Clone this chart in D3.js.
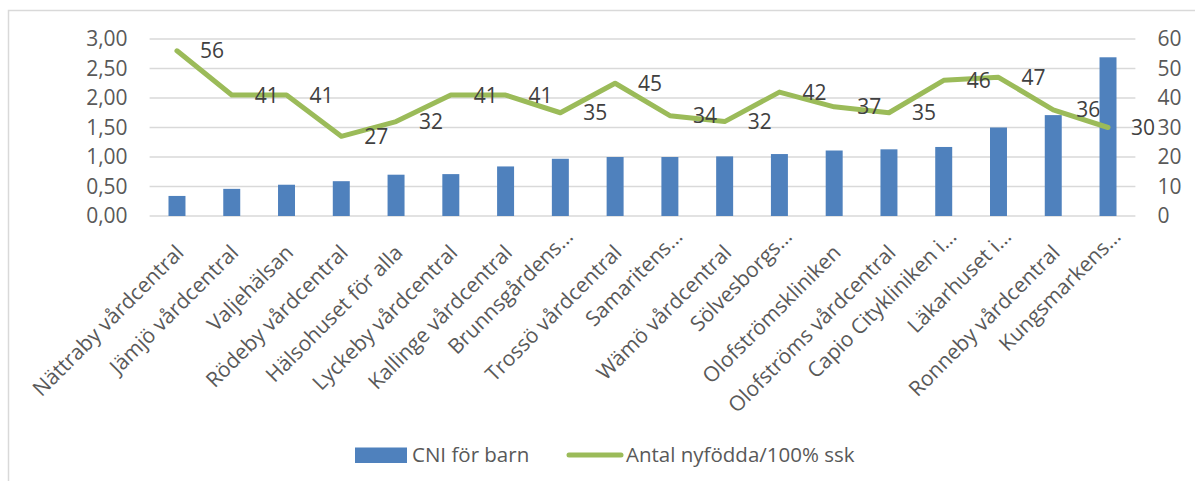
<!DOCTYPE html>
<html>
<head>
<meta charset="utf-8">
<script src="https://cdn.jsdelivr.net/npm/d3@7"></script>
<style>
  html, body { margin: 0; padding: 0; background: #fff; }
  svg { display: block; font-family: "Open Sans", sans-serif; }
</style>
</head>
<body>
<svg id="chart" width="1195" height="481"></svg>
<script>
// Vårdcentraler, sorterade efter CNI för barn
const categories = [
  "Nättraby vårdcentral", "Jämjö vårdcentral", "Valjehälsan", "Rödeby vårdcentral",
  "Hälsohuset för alla", "Lyckeby vårdcentral", "Kallinge vårdcentral", "Brunnsgårdens…",
  "Trossö vårdcentral", "Samaritens…", "Wämö vårdcentral", "Sölvesborgs…",
  "Olofströmskliniken", "Olofströms vårdcentral", "Capio Citykliniken i…", "Läkarhuset i…",
  "Ronneby vårdcentral", "Kungsmarkens…"
];
const cniValues = [0.34, 0.46, 0.53, 0.59, 0.70, 0.71, 0.84, 0.97, 1.00, 1.00, 1.01, 1.05, 1.11, 1.13, 1.17, 1.50, 1.71, 2.69];
const newbornValues = [56, 41, 41, 27, 32, 41, 41, 35, 45, 34, 32, 42, 37, 35, 46, 47, 36, 30];
const leftTicks = [0, 0.5, 1, 1.5, 2, 2.5, 3];
const rightTicks = [0, 10, 20, 30, 40, 50, 60];
const seriesNames = ["CNI för barn", "Antal nyfödda/100% ssk"];

const barColor = "#4F81BD";
const lineColor = "#9BBB59";
const gridColor = "#D9D9D9";
const axisText = "#595959";
const labelText = "#404040";

const svg = d3.select("#chart");
const plot = { left: 149.6, right: 1135.4, top: 39, bottom: 216 };

// Outer chart frame
svg.append("rect")
  .attr("x", 8.5).attr("y", 10.5)
  .attr("width", 1200).attr("height", 480)
  .attr("fill", "none").attr("stroke", gridColor).attr("stroke-width", 1.5);

const x = d3.scaleBand().domain(categories).range([plot.left, plot.right]).paddingInner(0.69).paddingOuter(0.345);
const xc = d3.scaleBand().domain(categories).range([plot.left, plot.right]);
const yL = d3.scaleLinear().domain([0, 3]).range([plot.bottom, plot.top]);
const yR = d3.scaleLinear().domain([0, 60]).range([plot.bottom, plot.top]);
const cx = d => xc(d) + xc.bandwidth() / 2;

// Gridlines
svg.append("g").selectAll("line").data(leftTicks).join("line")
  .attr("x1", plot.left).attr("x2", plot.right)
  .attr("y1", d => yL(d)).attr("y2", d => yL(d))
  .attr("stroke", gridColor).attr("stroke-width", 1.5);

// Left axis
const leftAxis = svg.append("g").attr("transform", `translate(${plot.left},0)`)
  .call(d3.axisLeft(yL).tickValues(leftTicks).tickSize(0).tickPadding(22)
    .tickFormat(d => d3.format(".2f")(d).replace(".", ",")));
leftAxis.select(".domain").remove();
leftAxis.selectAll("text").attr("fill", axisText).style("font-size", "21px").style("font-family", "Open Sans");

// Right axis
const rightAxis = svg.append("g").attr("transform", `translate(${plot.right},0)`)
  .call(d3.axisRight(yR).tickValues(rightTicks).tickSize(0).tickPadding(22));
rightAxis.select(".domain").remove();
rightAxis.selectAll("text").attr("fill", axisText).style("font-size", "21px").style("font-family", "Open Sans");

// Bars
svg.append("g").selectAll("rect").data(cniValues).join("rect")
  .attr("x", (d, i) => x(categories[i]))
  .attr("width", x.bandwidth())
  .attr("y", d => yL(d))
  .attr("height", d => yL(0) - yL(d))
  .attr("fill", barColor);

// Line
const line = d3.line()
  .x((d, i) => cx(categories[i]))
  .y(d => yR(d));
svg.append("path").datum(newbornValues)
  .attr("d", line)
  .attr("fill", "none").attr("stroke", lineColor)
  .attr("stroke-width", 5).attr("stroke-linejoin", "round").attr("stroke-linecap", "round");

// Data labels to the right of each point
svg.append("g").selectAll("text").data(newbornValues).join("text")
  .attr("x", (d, i) => cx(categories[i]) + 35)
  .attr("y", d => yR(d))
  .attr("dy", "0.36em")
  .attr("text-anchor", "middle")
  .attr("fill", labelText)
  .style("font-size", "21px")
  .text(d => d);

// Category labels, rotated; shortened names sit a little higher
svg.append("g").selectAll("text").data(categories).join("text")
  .attr("transform", d => {
    const short = d.endsWith("…");
    return `translate(${cx(d) + (short ? 14 : 8)},${short ? 238 : 254}) rotate(-45)`;
  })
  .attr("text-anchor", "end")
  .attr("fill", axisText)
  .style("font-size", "21px")
  .text(d => d);

// Legend
const lg = svg.append("g");
lg.append("rect").attr("x", 355).attr("y", 447.5).attr("width", 52).attr("height", 15.5).attr("fill", barColor);
lg.append("text").attr("x", 412).attr("y", 455).attr("dy", "0.35em").attr("fill", axisText)
  .style("font-size", "20.5px").text(seriesNames[0]);
lg.append("line").attr("x1", 569).attr("x2", 621).attr("y1", 455).attr("y2", 455)
  .attr("stroke", lineColor).attr("stroke-width", 5).attr("stroke-linecap", "round");
lg.append("text").attr("x", 626).attr("y", 455).attr("dy", "0.35em").attr("fill", axisText)
  .style("font-size", "20.5px").text(seriesNames[1]);
</script>
</body>
</html>
